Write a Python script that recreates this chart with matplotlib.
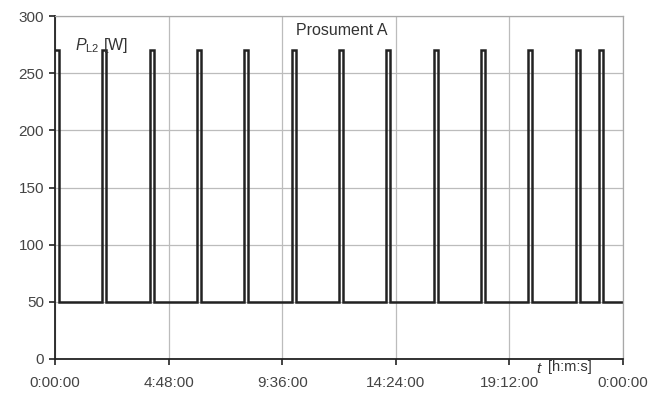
import numpy as np
import matplotlib.pyplot as plt
from matplotlib.ticker import FuncFormatter

plt.rcParams['font.family'] = ['Liberation Sans', 'DejaVu Sans']
plt.rcParams['mathtext.fontset'] = 'custom'
plt.rcParams['mathtext.rm'] = 'Liberation Sans'
plt.rcParams['mathtext.it'] = 'Liberation Sans:italic'

# pulse start times in hours, pulse duration, power levels (W)
pulse_start = [0.0, 2.0, 4.0, 6.0, 8.0, 10.0, 12.0, 14.0, 16.0, 18.0, 20.0, 22.0, 23.0]
pulse_len = 10 / 60
p_base = 50
p_peak = 270
t_end = 24.0

# step profile
t = [0.0]
p = [p_peak]
for s in pulse_start:
    if s > 0:
        t += [s, s]
        p += [p_base, p_peak]
    t += [s + pulse_len, s + pulse_len]
    p += [p_peak, p_base]
t.append(t_end)
p.append(p_base)

fig = plt.figure(figsize=(6.68, 3.93), dpi=100)
ax = fig.add_axes([55 / 668, 1 - 359 / 393, 568 / 668, 343 / 393])

ax.plot(t, p, color='#222222', lw=1.8, solid_joinstyle='miter')

ax.set_xlim(0, 24)
ax.set_ylim(0, 300)
ax.set_xticks(np.arange(0, 24.01, 4.8))
ax.set_yticks(np.arange(0, 301, 50))


def hms(x, pos):
    secs = int(round(x * 3600)) % (24 * 3600)
    h, rem = divmod(secs, 3600)
    m, s = divmod(rem, 60)
    return f"{h}:{m:02d}:{s:02d}"


ax.xaxis.set_major_formatter(FuncFormatter(hms))
ax.grid(True, color='#bcbcbc', lw=0.9)
ax.set_axisbelow(True)
for side in ['top', 'right']:
    ax.spines[side].set_color('#a8a8a8')
    ax.spines[side].set_linewidth(0.9)
for side in ['left', 'bottom']:
    ax.spines[side].set_color('#222222')
    ax.spines[side].set_linewidth(1.3)
ax.tick_params(direction='out', length=4, width=1.2, color='#222222',
               labelsize=11, labelcolor='#444444')
ax.tick_params(axis='x', pad=8)
ax.tick_params(axis='y', pad=4)

ax.text(0.035, 0.915, r'$\mathit{P}_{\mathrm{L2}}$ [W]', transform=ax.transAxes,
        fontsize=11.5, color='#333333', va='center', ha='left')
ax.text(0.504, 0.957, 'Prosument A', transform=ax.transAxes,
        fontsize=11.5, color='#333333', va='center', ha='center')
fig.text(538 / 668, 1 - 369 / 393, 't', fontsize=11, style='italic',
         color='#333333', ha='center', va='center')
fig.text(548 / 668, 1 - 367 / 393, '[h:m:s]', fontsize=10.5,
         color='#333333', ha='left', va='center')

fig.savefig('out.png', dpi=100)
